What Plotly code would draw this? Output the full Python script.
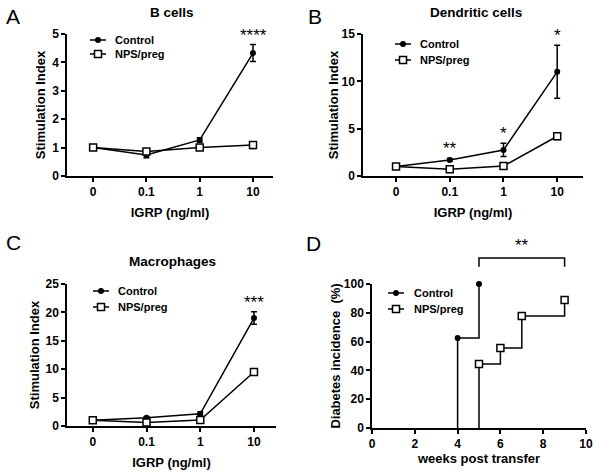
import plotly.graph_objects as go

# ---------------- data ----------------
doses = ["0", "0.1", "1", "10"]

b_control = [1.0, 0.74, 1.27, 4.33]
b_control_err = [0.05, 0.1, 0.08, 0.3]
b_nps = [1.0, 0.86, 1.0, 1.09]
b_nps_err = [0.05, 0.05, 0.06, 0.12]
b_stars = ["", "", "", "****"]

dc_control = [1.0, 1.7, 2.75, 11.0]
dc_control_err = [0.1, 0.15, 0.7, 2.8]
dc_nps = [1.0, 0.72, 1.05, 4.2]
dc_nps_err = [0.1, 0.1, 0.15, 0.35]
dc_stars = ["", "**", "*", "*"]

mac_control = [1.0, 1.45, 2.15, 19.0]
mac_control_err = [0.2, 0.2, 0.3, 1.1]
mac_nps = [1.0, 0.6, 1.05, 9.5]
mac_nps_err = [0.2, 0.1, 0.2, 0.4]
mac_stars = ["", "", "", "***"]

ctrl_weeks = [4, 4, 5]
ctrl_incidence = [0, 62.5, 100]
nps_weeks = [5, 5, 6, 7, 9]
nps_incidence = [0, 44.4, 55.6, 77.8, 88.9]

group_names = ["Control", "NPS/preg"]

FONT = "Liberation Sans"
W, H = 601, 472


def px(x):
    return x / W


def py(y):
    return 1 - y / H


xpos = list(range(len(doses)))

fig = go.Figure()

ctrl_marker = dict(symbol="circle", size=6, color="black")
nps_marker = dict(symbol="square", size=7, color="white", line=dict(width=1.5, color="black"))

panels = [
    (b_control, b_control_err, b_nps, b_nps_err, b_stars, "x", "y"),
    (dc_control, dc_control_err, dc_nps, dc_nps_err, dc_stars, "x2", "y2"),
    (mac_control, mac_control_err, mac_nps, mac_nps_err, mac_stars, "x3", "y3"),
]

for c, ce, n, ne, stars, xa, ya in panels:
    fig.add_trace(go.Scatter(
        x=xpos, y=c, mode="lines+markers", name=group_names[0],
        line=dict(color="black", width=1.5), marker=ctrl_marker,
        error_y=dict(type="data", array=ce, color="black", thickness=1.5, width=3),
        xaxis=xa, yaxis=ya, showlegend=False, cliponaxis=False))
    fig.add_trace(go.Scatter(
        x=xpos, y=n, mode="lines+markers", name=group_names[1],
        line=dict(color="black", width=1.5), marker=nps_marker,
        error_y=dict(type="data", array=ne, color="black", thickness=1.5, width=3),
        xaxis=xa, yaxis=ya, showlegend=False, cliponaxis=False))
    for i, s in enumerate(stars):
        if s:
            top = c[i] + ce[i]
            fig.add_annotation(x=xpos[i], y=top, xref=xa, yref=ya, text=s,
                               showarrow=False, xanchor="center", yanchor="bottom", yshift=-2,
                               font=dict(family=FONT, size=17, color="black"))

# panel D (step curves; markers only at events)
fig.add_trace(go.Scatter(
    x=ctrl_weeks, y=ctrl_incidence, mode="lines", line=dict(color="black", width=1.5, shape="hv"),
    xaxis="x4", yaxis="y4", showlegend=False, cliponaxis=False, hoverinfo="skip"))
fig.add_trace(go.Scatter(
    x=nps_weeks, y=nps_incidence, mode="lines", line=dict(color="black", width=1.5, shape="hv"),
    xaxis="x4", yaxis="y4", showlegend=False, cliponaxis=False, hoverinfo="skip"))
fig.add_trace(go.Scatter(
    x=[w for w, v in zip(ctrl_weeks, ctrl_incidence) if v > 0],
    y=[v for v in ctrl_incidence if v > 0],
    mode="markers", name=group_names[0], marker=ctrl_marker,
    xaxis="x4", yaxis="y4", showlegend=False, cliponaxis=False))
fig.add_trace(go.Scatter(
    x=[w for w, v in zip(nps_weeks, nps_incidence) if v > 0],
    y=[v for v in nps_incidence if v > 0],
    mode="markers", name=group_names[1], marker=nps_marker,
    xaxis="x4", yaxis="y4", showlegend=False, cliponaxis=False))

# bracket in D spanning from the last control event to the last NPS event
d_range = [0, 10]
bx0 = (ctrl_weeks[-1] - d_range[0]) / (d_range[1] - d_range[0])
bx1 = (nps_weeks[-1] - d_range[0]) / (d_range[1] - d_range[0])
fig.add_shape(type="path",
              path=f"M {bx0},1.12 L {bx0},1.18 L {bx1},1.18 L {bx1},1.12",
              xref="x4 domain", yref="y4 domain", line=dict(color="black", width=1.5))
fig.add_annotation(x=(bx0 + bx1) / 2, y=1.19, xref="x4 domain", yref="y4 domain",
                   text="**", showarrow=False, xanchor="center", yanchor="bottom",
                   font=dict(family=FONT, size=17, color="black"))

tickfont = dict(family=FONT, size=12, color="black", weight="bold")
titlefont = dict(family=FONT, size=13, color="black", weight="bold")

common = dict(showline=True, linecolor="black", linewidth=1.5, ticks="outside",
              ticklen=4, tickwidth=1.5, tickcolor="black", showgrid=False,
              zeroline=False, tickfont=tickfont, title_font=titlefont, automargin=False)

fig.update_layout(
    template="none",
    width=W, height=H, margin=dict(l=0, r=0, t=0, b=0, pad=0, autoexpand=False),
    paper_bgcolor="white", plot_bgcolor="white", showlegend=False,
    font=dict(family=FONT, color="black"),
    xaxis=dict(common, domain=[px(67), px(273)], range=[-0.49, 3.375],
               tickvals=xpos, ticktext=doses, anchor="y",
               title=dict(text="IGRP (ng/ml)", standoff=10)),
    yaxis=dict(common, domain=[py(176), py(34)], range=[0, 5], dtick=1, anchor="x",
               title=dict(text="Stimulation Index", standoff=4)),
    xaxis2=dict(common, domain=[px(363), px(583)], range=[-0.615, 3.48],
                tickvals=xpos, ticktext=doses, anchor="y2",
                title=dict(text="IGRP (ng/ml)", standoff=10)),
    yaxis2=dict(common, domain=[py(176), py(34)], range=[0, 15], dtick=5, anchor="x2",
                title=dict(text="Stimulation Index", standoff=0)),
    xaxis3=dict(common, domain=[px(67), px(276)], range=[-0.48, 3.41],
                tickvals=xpos, ticktext=doses, anchor="y3",
                title=dict(text="IGRP (ng/ml)", standoff=10)),
    yaxis3=dict(common, domain=[py(426), py(284)], range=[0, 25], dtick=5, anchor="x3",
                title=dict(text="Stimulation Index", standoff=3)),
    xaxis4=dict(common, domain=[px(372), px(586)], range=d_range, dtick=2, anchor="y4",
                title=dict(text="weeks post transfer", standoff=4)),
    yaxis4=dict(common, domain=[py(428), py(284)], range=[0, 100], dtick=20, anchor="x4",
                title=dict(text="Diabetes incidence  (%)", standoff=0)),
)

# hand-drawn legends (key line + marker + label) in each panel
legend_font = dict(family=FONT, size=11, color="black", weight="bold")
legend_pos = [  # key x0, key x1, text x, row y (Control), row y (NPS/preg)
    (90, 106, 113, 40, 54),
    (395, 411, 418, 44, 60),
    (93, 109, 116, 291, 307),
    (388, 404, 412, 293, 309),
]
for kx0, kx1, tx, yc, yn in legend_pos:
    for name, yy in zip(group_names, (yc, yn)):
        fig.add_shape(type="line", x0=px(kx0), x1=px(kx1), y0=py(yy), y1=py(yy),
                      xref="paper", yref="paper", line=dict(color="black", width=1.5))
        cx = (kx0 + kx1) / 2
        if name == group_names[0]:
            fig.add_shape(type="circle", x0=px(cx - 3), x1=px(cx + 3), y0=py(yy + 3), y1=py(yy - 3),
                          xref="paper", yref="paper", fillcolor="black", line=dict(color="black", width=0))
        else:
            fig.add_shape(type="rect", x0=px(cx - 3.5), x1=px(cx + 3.5), y0=py(yy + 3.5), y1=py(yy - 3.5),
                          xref="paper", yref="paper", fillcolor="white", line=dict(color="black", width=1.5))
        fig.add_annotation(x=px(tx), y=py(yy), xref="paper", yref="paper", text=name,
                           showarrow=False, xanchor="left", yanchor="middle", font=legend_font)

# panel titles and letters
for text, x, y in [("B cells", 172, 12), ("Dendritic cells", 476, 12), ("Macrophages", 172, 261)]:
    fig.add_annotation(x=px(x), y=py(y), xref="paper", yref="paper", text=text,
                       showarrow=False, xanchor="center", yanchor="middle",
                       font=dict(family=FONT, size=13.5, color="black", weight="bold"))
for text, x, y in [("A", 13, 16), ("B", 315, 16), ("C", 13, 243), ("D", 313, 244)]:
    fig.add_annotation(x=px(x), y=py(y), xref="paper", yref="paper", text=text,
                       showarrow=False, xanchor="center", yanchor="middle",
                       font=dict(family=FONT, size=21, color="black"))

fig.write_html("out.html", post_script="document.body.style.margin='0';",
               config={"displayModeBar": False})
